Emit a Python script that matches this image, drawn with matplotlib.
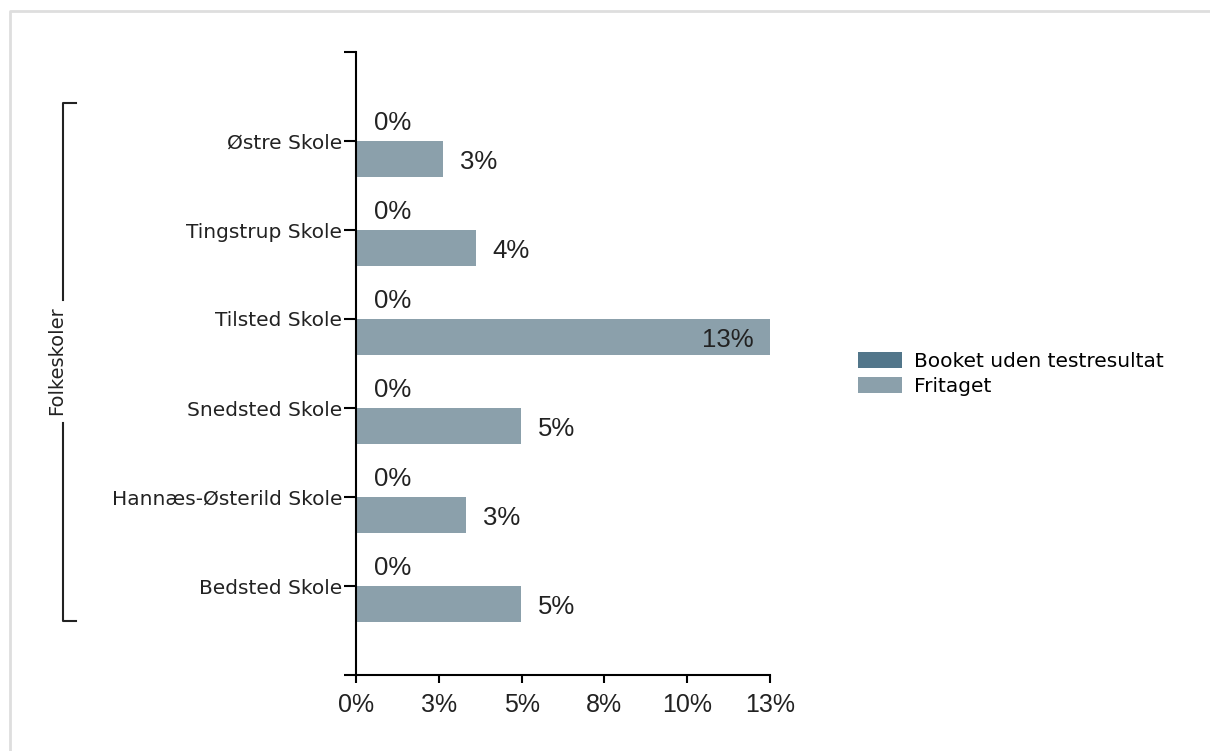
import matplotlib
matplotlib.use('Agg')
import matplotlib.pyplot as plt
from matplotlib.lines import Line2D

# Data
schools = ['Østre Skole', 'Tingstrup Skole', 'Tilsted Skole',
           'Snedsted Skole', 'Hannæs-Østerild Skole', 'Bedsted Skole']
booket = [0.0, 0.0, 0.0, 0.0, 0.0, 0.0]
fritaget = [0.0263, 0.0362, 0.125, 0.0498, 0.0332, 0.0498]
series_names = ['Booket uden testresultat', 'Fritaget']
xticks = [0, 0.025, 0.05, 0.075, 0.10, 0.125]
xtick_labels = ['0%', '3%', '5%', '8%', '10%', '13%']
group_label = 'Folkeskoler'

c_booket = '#52768a'
c_fritaget = '#8ba0ab'


def pct(v):
    # round half up, like the source tool
    return f'{int(v * 100 + 0.5)}%'


W, H = 1210, 751
fig = plt.figure(figsize=(W / 100, H / 100), dpi=100)
ax = fig.add_axes([356 / W, (H - 675) / H, 414 / W, 623 / H])

pos = list(range(len(schools)))
bh = 0.4
ax.barh([p - bh / 2 for p in pos], booket, height=bh, color=c_booket,
        label=series_names[0])
ax.barh([p + bh / 2 for p in pos], fritaget, height=bh, color=c_fritaget,
        label=series_names[1])

ax.set_xlim(0, 0.125)
ax.set_ylim(len(schools), -1)

# value labels
vfont = dict(family='Liberation Sans', fontsize=18.5, color='#222222')
for p, v in zip(pos, booket):
    ax.annotate(pct(v), (v, p - bh / 2), xytext=(13, 0),
                textcoords='offset points', ha='left', va='center', **vfont)
for p, v in zip(pos, fritaget):
    if v > 0.11:
        ax.annotate(pct(v), (v, p + bh / 2), xytext=(-12, -2),
                    textcoords='offset points', ha='right', va='center', **vfont)
    else:
        ax.annotate(pct(v), (v, p + bh / 2), xytext=(12, -2),
                    textcoords='offset points', ha='left', va='center', **vfont)

# axes styling
for s in ['top', 'right']:
    ax.spines[s].set_visible(False)
for s in ['left', 'bottom']:
    ax.spines[s].set_linewidth(1.5)
ax.set_yticks(pos)
ax.set_yticklabels(schools, family='DejaVu Sans', fontsize=14.5, color='#222222')
ax.set_yticks([-1, len(schools)], minor=True)
ax.tick_params(axis='y', which='both', length=9, width=1.5, pad=1)
ax.set_xticks(xticks)
ax.set_xticklabels(xtick_labels, family='Liberation Sans', fontsize=18,
                   color='#222222')
ax.tick_params(axis='x', length=6, width=1.5, pad=7)

# legend
leg = fig.legend(loc='upper left', bbox_to_anchor=(858 / W, 1 - 352 / H),
                 frameon=False, prop={'family': 'DejaVu Sans', 'size': 14.5},
                 handlelength=2.2, handleheight=0.8, handletextpad=0.6,
                 labelspacing=0.3, borderaxespad=0, borderpad=0)

# group bracket
def fx(px):
    return px / W

def fy(py):
    return 1 - py / H

lw = 1.5
fig.add_artist(Line2D([fx(76), fx(63), fx(63)], [fy(103), fy(103), fy(300)],
                      color='#222222', lw=lw))
fig.add_artist(Line2D([fx(63), fx(63), fx(76)], [fy(423), fy(621), fy(621)],
                      color='#222222', lw=lw))
fig.text(fx(57), fy(361), group_label, rotation=90, ha='center', va='center',
         family='DejaVu Sans', fontsize=14, color='#222222')

# light frame
fig.add_artist(Line2D([fx(10), fx(10), fx(W)], [0, fy(11), fy(11)],
                      color='#dedede', lw=2))

fig.savefig('out.png', dpi=100)
